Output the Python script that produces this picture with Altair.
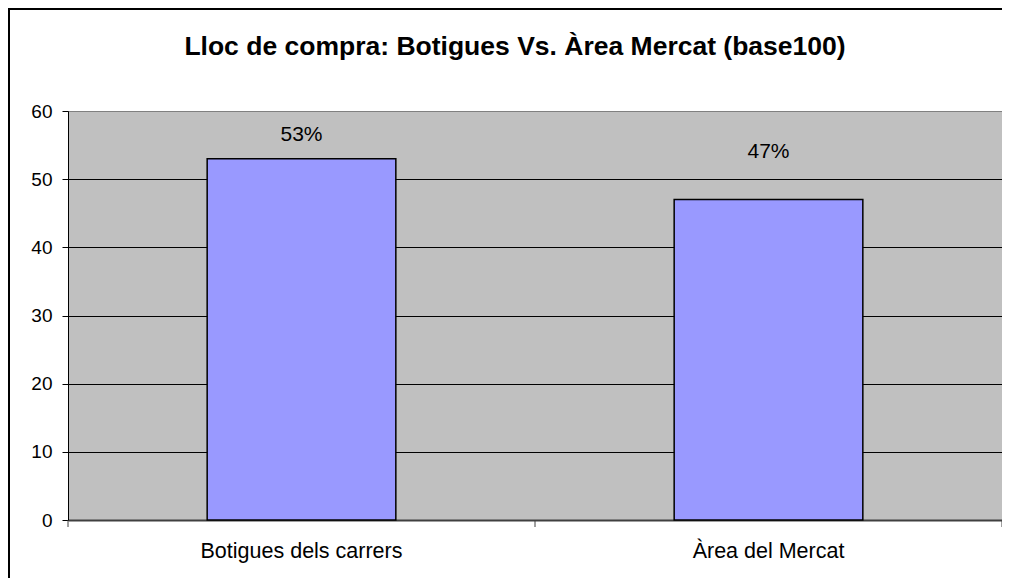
import altair as alt
import pandas as pd

categories = ["Botigues dels carrers", "Àrea del Mercat"]
values = [53, 47]
y_ticks = [0, 10, 20, 30, 40, 50, 60]
title_text = "Lloc de compra: Botigues Vs. Àrea Mercat (base100)"

W, H = 934, 409
FONT = "Liberation Sans"

df = pd.DataFrame({"cat": categories, "v": values})
df["label"] = [f"{v}%" for v in values]

x_enc = alt.X("cat:N", sort=categories,
              scale=alt.Scale(paddingInner=0.596, paddingOuter=0.298),
              axis=alt.Axis(title=None, labelAngle=0, ticks=False, labelLimit=500,
                            labelFontSize=21.5, labelFont=FONT, labelColor="black",
                            labelPadding=20, domainColor="#404040", domainWidth=2,
                            grid=False))
y_enc = alt.Y("v:Q", scale=alt.Scale(domain=[0, 60], nice=False),
              axis=alt.Axis(title=None, values=y_ticks, tickSize=6, tickColor="black",
                            labelFontSize=19, labelFont=FONT, labelColor="black",
                            labelPadding=10, domainColor="black",
                            gridColor={"condition": {"test": "datum.value === 60", "value": "#808080"},
                                       "value": "black"},
                            gridWidth=1))

base = alt.Chart(df)

bars = base.mark_bar(color="#9999FF", stroke="black", strokeWidth=1.5).encode(x=x_enc, y=y_enc)

label_dy = {"Botigues dels carrers": -24, "Àrea del Mercat": -48}
label_layers = [
    base.transform_filter(alt.datum.cat == c).mark_text(
        font=FONT, fontSize=21, color="black", baseline="middle", dy=d
    ).encode(x=alt.X("cat:N", sort=categories), y="v:Q", text="label:N")
    for c, d in label_dy.items()
]

one = alt.Data(values=[{"k": 1}])
ticks = [
    alt.Chart(one).mark_rule(color="#404040", strokeWidth=1).encode(
        x=alt.value(px), y=alt.value(H), y2=alt.value(H + 7))
    for px in [0, W / 2, W]
]

border = alt.Chart(one).mark_rect(fill=None, stroke="black", strokeWidth=2).encode(
    x=alt.value(-59), y=alt.value(-102), x2=alt.value(W + 20), y2=alt.value(H + 80))

chart = alt.layer(bars, *label_layers, *ticks, border).properties(
    width=W, height=H,
    title=alt.TitleParams(title_text, font=FONT, fontSize=26.5, fontWeight="bold",
                          color="black", anchor="middle", frame="group", dx=-20,
                          offset=0, dy=52),
    autosize=alt.AutoSizeParams(type="none"),
    padding={"left": 60, "top": 103, "right": 0, "bottom": 58},
).configure(background="white", view=alt.ViewConfig(fill="#C0C0C0", stroke="#808080", strokeWidth=1))

chart.save("out.html", embed_options={"renderer": "svg", "actions": False})
